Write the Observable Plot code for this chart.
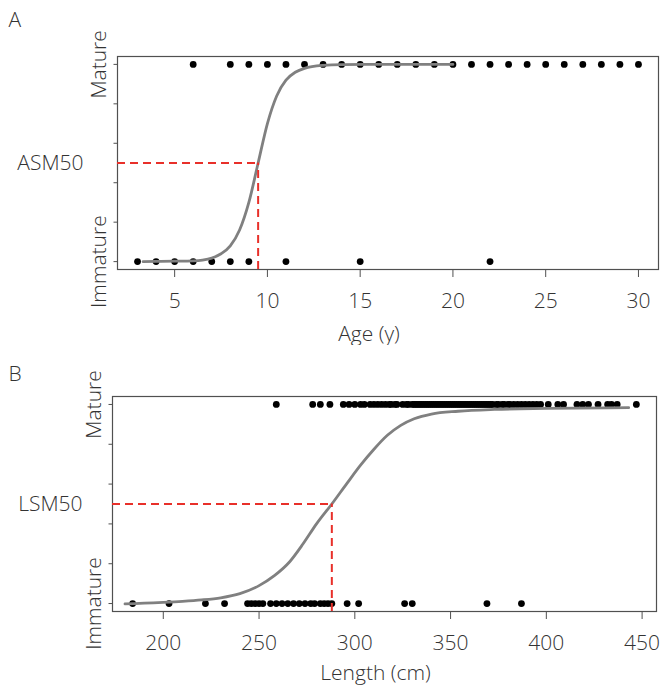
<!DOCTYPE html>
<html><head><meta charset="utf-8">
<script src="https://cdn.jsdelivr.net/npm/d3@7"></script>
<script src="https://cdn.jsdelivr.net/npm/@observablehq/plot@0.6"></script>
<style>
body{margin:0;background:#fff;}
#wrap{position:relative;width:666px;height:687px;}
.panel{position:absolute;left:0;}
</style></head><body>
<div id="wrap"></div>
<script>
// ---------- Panel A: age ----------
const ageMature = [6,8,9,10,11,12,13,14,15,16,17,18,19,20,21,22,23,24,25,26,27,28,29,30];
const ageImmature = [3,4,5,6,7,8,9,11,15,22];
const ageCurveX = [3.3,4,5,6,6.5,7,7.5,8,8.5,9,9.5,10,10.5,11,11.5,12,13,14,16,20];
const ageCurveP = [0,0.001,0.002,0.004,0.008,0.018,0.04,0.08,0.16,0.3,0.5,0.7,0.84,0.92,0.96,0.98,0.995,0.999,1,1];
const asm50 = 9.5;
const ageTicks = [5,10,15,20,25,30];

// ---------- Panel B: length ----------
const lenMature = [259,278,282,287,294,297,300,303,305,308,310,312,314,316,318,319,321,322,325,327,328,330,331,332,333,334,335,336,337,338,339,340,341,342,343,344,345,346,347,348,349,350,351,352,353,354,355,356,357,358,359,360,361,362,363,364,365,366,367,368,369,370,371,372,374,375,377,378,380,381,383,385,387,389,391,393,395,397,401,406,409,416,419,422,427,432,434,437,447];
const lenImmature = [184,203,222,232,244,246,248,250,252,256,259,262,265,268,271,274,277,279,282,284,286,288,296,302,326,330,369,387];
const lenCurveX = [180,190,200,210,220,230,240,250,258,266,273,280,288,296,303,310,317,324,331,340,354,373,400,443];
const lenCurveP = [-0.002,0.002,0.006,0.011,0.018,0.029,0.05,0.09,0.14,0.21,0.3,0.4,0.5,0.605,0.695,0.775,0.845,0.895,0.928,0.952,0.966,0.975,0.98,0.984];
const lsm50 = 288;
const lenTicks = [200,250,300,350,400,450];

// ---------- shared ----------
const yTicks = [0,0.2,0.4,0.6,0.8,1];
const stateLabels = ["Immature","Mature"];
const stateValues = [0,1];

const FONT = "'Open Sans', sans-serif";
const TXT = "#333";
const RED = "#e8302a";

function pad4(vals){
  const [a,b] = d3.extent(vals);
  const w = b - a;
  return [a - 0.04*w, b + 0.04*w];
}

function panel(o){
  const pts = o.mature.map(v => ({x:v, p:1})).concat(o.immature.map(v => ({x:v, p:0})));
  const curve = o.curveX.map((v,i) => ({x:v, p:o.curveP[i]}));
  const xd = pad4(o.mature.concat(o.immature));
  const yd = [-0.04, 1.04];
  const states = stateValues.map((v,i) => ({p:v, t:stateLabels[i]}));
  return Plot.plot({
    width: 666, height: o.height,
    marginLeft: o.ml, marginRight: o.mr, marginTop: o.mt, marginBottom: o.mb,
    style: {fontFamily: FONT, fontSize: "21px", color: TXT, background: "#fff", overflow: "visible"},
    x: {domain: xd, axis: null},
    y: {domain: yd, axis: null},
    marks: [
      Plot.frame({stroke: "#505050", strokeWidth: 1.2}),
      Plot.axisY(yTicks, {tickSize: 3.5, tickFormat: () => "", stroke: "#505050", label: null}),
      Plot.axisX(o.xTicks, {tickSize: 8, tickPadding: 16, fontSize: 21, color: TXT, stroke: "#505050", label: null, fontWeight: 300}),
      Plot.dot(pts, {x: "x", y: "p", r: 3.4, fill: "#000", stroke: "none"}),
      Plot.line(curve, {x: "x", y: "p", stroke: "#808080", strokeWidth: 2.8, curve: "monotone-x"}),
      Plot.ruleY([0.5], {x1: xd[0], x2: o.m50, stroke: RED, strokeWidth: 2, strokeDasharray: "8,5"}),
      Plot.ruleX([o.m50], {y1: yd[0], y2: 0.5, stroke: RED, strokeWidth: 2, strokeDasharray: "8,5"}),
      Plot.text(states, {y: "p", text: "t", frameAnchor: "left", rotate: -90, dx: -12, lineAnchor: "bottom", textAnchor: "middle", fontSize: 21, fill: TXT, fontWeight: 300}),
      Plot.text([o.m50Label], {frameAnchor: "left", y: [0.5], text: d => d, dx: o.m50dx, textAnchor: "end", lineAnchor: "middle", fontSize: 21, fill: TXT, fontWeight: 300}),
      Plot.text([o.xLabel], {frameAnchor: "bottom", dx: o.tdx, dy: o.tdy, lineAnchor: "bottom", fontSize: 21, fill: TXT, fontWeight: 300}),
      Plot.text([o.tag], {frameAnchor: "top-left", dx: 8 - o.ml, dy: o.tagY - o.mt, lineAnchor: "bottom", textAnchor: "start", fontSize: 21, fill: TXT, fontWeight: 300})
    ]
  });
}

const wrap = document.getElementById("wrap");
const A = panel({
  mature: ageMature, immature: ageImmature, curveX: ageCurveX, curveP: ageCurveP,
  m50: asm50, m50Label: "ASM50", xTicks: ageTicks, xLabel: "Age (y)", tag: "A",
  height: 345, ml: 117, mr: 8, mt: 56, mb: 76, tdx: -19, tdy: 71, m50dx: -34, tagY: 26
});
A.classList.add("panel"); A.style.top = "0px";
wrap.appendChild(A);

const B = panel({
  mature: lenMature, immature: lenImmature, curveX: lenCurveX, curveP: lenCurveP,
  m50: lsm50, m50Label: "LSM50", xTicks: lenTicks, xLabel: "Length (cm)", tag: "B",
  height: 342, ml: 112, mr: 10, mt: 51, mb: 76, tdx: -9, tdy: 68, m50dx: -30, tagY: 35
});
B.classList.add("panel"); B.style.top = "345px";
wrap.appendChild(B);
</script>
</body></html>
